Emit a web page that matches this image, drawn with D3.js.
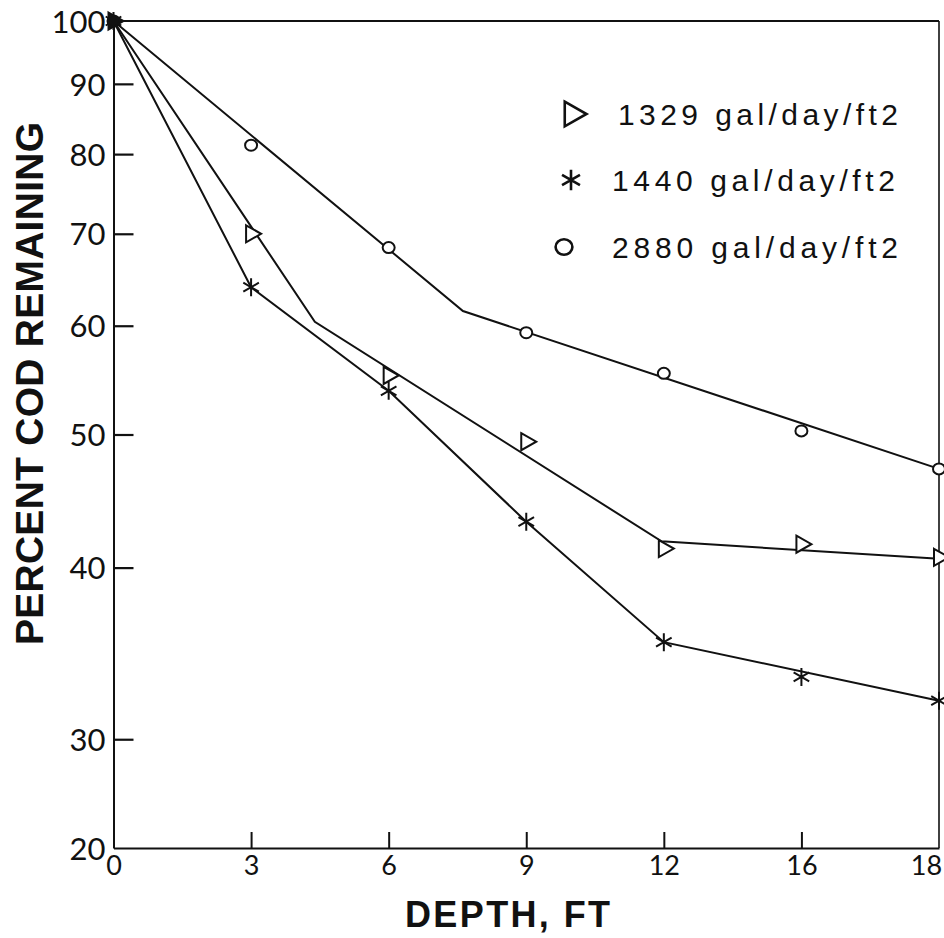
<!DOCTYPE html>
<html>
<head>
<meta charset="utf-8">
<script src="https://cdn.jsdelivr.net/npm/d3@7/dist/d3.min.js"></script>
<style>
  html, body { margin: 0; padding: 0; background: #fff; }
  svg { display: block; }
  .tick text { font-family: "Lato", "Open Sans", "DejaVu Sans", sans-serif; font-weight: 400; fill: #111; }
</style>
</head>
<body>
<svg id="chart" width="944" height="938"></svg>
<script>
// ---- data ----
const depthTicks = [0, 3, 6, 9, 12, 16, 18];
const depthTickLabels = ["0", "3", "6", "9", "12", "16", "18"];
const yTickValues = [25, 30, 40, 50, 60, 70, 80, 90, 100];
const yTickLabels = ["20", "30", "40", "50", "60", "70", "80", "90", "100"];

const seriesNames = ["1329 gal/day/ft2", "1440 gal/day/ft2", "2880 gal/day/ft2"];
const seriesSymbols = ["triangle", "star", "circle"];

const depth1329 = [0, 3, 6, 9, 12, 16, 18];
const cod1329   = [100, 70.0, 55.2, 49.4, 41.3, 41.6, 40.7];
const depth1440 = [0, 3, 6, 9, 12, 16, 18];
const cod1440   = [100, 64.0, 53.8, 43.2, 35.3, 33.3, 32.0];
const depth2880 = [0, 3, 6, 9, 12, 16, 18];
const cod2880   = [100, 81.2, 68.4, 59.3, 55.4, 50.3, 47.2];

// fitted lines (breakpoints)
const fitDepth1329 = [0, 4.39, 11.95, 18];
const fitCod1329   = [100, 60.4, 41.8, 40.6];
const fitDepth1440 = [0, 3, 6, 9, 12, 18];
const fitCod1440   = [100, 64.0, 53.8, 43.2, 35.3, 32.0];
const fitDepth2880 = [0, 7.62, 18];
const fitCod2880   = [100, 61.5, 47.2];

// ---- layout ----
const mLeft = 113.5, mRight = 939, mTop = 21, mBottom = 848;
const svg = d3.select("#chart");

const x = d3.scaleLinear()
  .domain(depthTicks)
  .range(depthTicks.map((d, i) => mLeft + i * (mRight - mLeft) / (depthTicks.length - 1)));
const y = d3.scaleLog().domain([25, 100]).range([mBottom, mTop]);

// frame: top and right borders
svg.append("line").attr("x1", mLeft).attr("x2", mRight).attr("y1", mTop).attr("y2", mTop)
  .attr("stroke", "#111").attr("stroke-width", 2.2);
svg.append("line").attr("x1", mRight).attr("x2", mRight).attr("y1", mTop).attr("y2", mBottom)
  .attr("stroke", "#111").attr("stroke-width", 1.6);

// y axis (ticks inward)
const yAxis = d3.axisLeft(y)
  .tickValues(yTickValues)
  .tickFormat(d => yTickLabels[yTickValues.indexOf(d)])
  .tickSizeInner(-20).tickSizeOuter(0).tickPadding(30);
const gy = svg.append("g").attr("transform", `translate(${mLeft},0)`).call(yAxis);
gy.select(".domain").attr("stroke", "#111").attr("stroke-width", 2);
gy.selectAll(".tick line").attr("stroke", "#111").attr("stroke-width", 2.2)
  .attr("display", d => (d === 25 || d === 100) ? "none" : null);
gy.selectAll(".tick text").attr("font-size", 31).attr("x", -8).attr("dy", "0.36em");

// x axis (ticks inward)
const xAxis = d3.axisBottom(x)
  .tickValues(depthTicks)
  .tickFormat((d, i) => depthTickLabels[i])
  .tickSizeInner(-16).tickSizeOuter(0);
const gx = svg.append("g").attr("transform", `translate(0,${mBottom})`).call(xAxis);
gx.select(".domain").attr("stroke", "#111").attr("stroke-width", 2);
gx.selectAll(".tick line").attr("stroke", "#111").attr("stroke-width", 2)
  .attr("display", d => (d === 0 || d === 18) ? "none" : null);
gx.selectAll(".tick text").attr("font-size", 27).attr("y", 8).attr("dy", "0.71em");
gx.selectAll(".tick text").filter(d => d === 18).attr("dx", -13);

// lines
const line = d3.line().x(d => x(d[0])).y(d => y(d[1]));
const fits = [
  d3.zip(fitDepth1329, fitCod1329),
  d3.zip(fitDepth1440, fitCod1440),
  d3.zip(fitDepth2880, fitCod2880)
];
svg.append("g").selectAll("path").data(fits).join("path")
  .attr("d", line).attr("fill", "none").attr("stroke", "#111").attr("stroke-width", 2);

// symbols
function symbolPath(type, s) {
  if (type === "triangle") {
    const w = 15 * s, h = 17 * s;
    return `M${-w / 3},${-h / 2}L${2 * w / 3},0L${-w / 3},${h / 2}Z`;
  }
  if (type === "star") {
    const r = 9 * s;
    let p = "";
    [90, 30, 150].forEach(a => {
      const rad = a * Math.PI / 180;
      const dx = r * Math.cos(rad), dy = r * Math.sin(rad);
      p += `M${-dx},${dy}L${dx},${-dy}`;
    });
    return p;
  }
  const rx = 6 * s, ry = 5.5 * s;
  return `M${-rx},0A${rx},${ry} 0 1,0 ${rx},0A${rx},${ry} 0 1,0 ${-rx},0Z`;
}

const pointSets = [
  d3.zip(depth1329, cod1329),
  d3.zip(depth1440, cod1440),
  d3.zip(depth2880, cod2880)
];
pointSets.forEach((pts, k) => {
  svg.append("g").selectAll("path").data(pts).join("path")
    .attr("transform", d => `translate(${x(d[0])},${y(d[1])})`)
    .attr("d", symbolPath(seriesSymbols[k], 1))
    .attr("fill", d => d[0] === 0 ? "#111" : "#fff")
    .attr("stroke", "#111").attr("stroke-width", 2);
});

// legend
const legendBaselines = [125, 191, 258];
const legendSymX = [572, 571, 564];
const legendTextX = [618, 612, 612];
const legendTextLen = [280, 283, 286];
const lg = svg.append("g");
seriesNames.forEach((name, k) => {
  lg.append("path")
    .attr("transform", `translate(${legendSymX[k]},${legendBaselines[k] - 11})`)
    .attr("d", symbolPath(seriesSymbols[k], k === 0 ? 1.45 : (k === 1 ? 1.15 : 1.4)))
    .attr("fill", "none").attr("stroke", "#111").attr("stroke-width", 2.6);
  lg.append("text")
    .attr("x", legendTextX[k]).attr("y", legendBaselines[k])
    .attr("textLength", legendTextLen[k]).attr("lengthAdjust", "spacing")
    .attr("font-family", "Liberation Sans, Arial, sans-serif")
    .attr("font-size", 30).attr("fill", "#111")
    .text(name);
});

// axis titles
svg.append("text")
  .attr("transform", `translate(43,383.5) rotate(-90)`)
  .attr("text-anchor", "middle")
  .attr("textLength", 523).attr("lengthAdjust", "spacing")
  .attr("font-family", "Liberation Sans, Arial, sans-serif")
  .attr("font-weight", "bold").attr("font-size", 39).attr("fill", "#111")
  .text("PERCENT COD REMAINING");

svg.append("text")
  .attr("x", 507.5).attr("y", 927)
  .attr("text-anchor", "middle")
  .attr("textLength", 205).attr("lengthAdjust", "spacing")
  .attr("font-family", "Liberation Sans, Arial, sans-serif")
  .attr("font-weight", "bold").attr("font-size", 36).attr("fill", "#111")
  .text("DEPTH, FT");
</script>
</body>
</html>
